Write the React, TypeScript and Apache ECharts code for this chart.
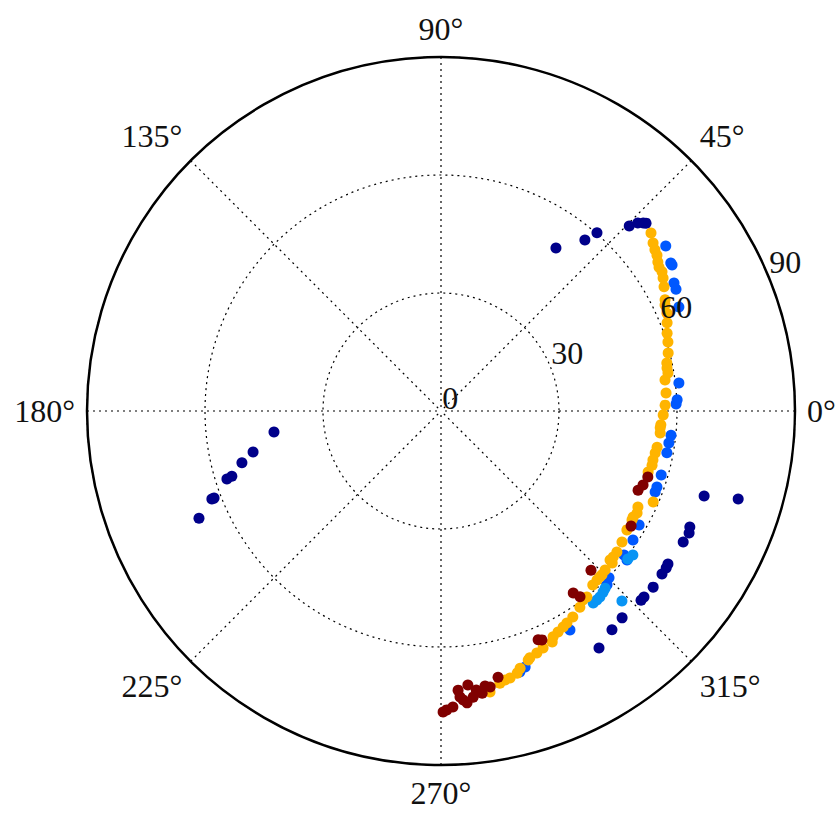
import React, { useEffect, useRef } from "react";
import * as echarts from "echarts";

// [radius, angle in degrees]
const navyPoints: number[][] = [
  [50.7, 54.8], [56.8, 49.9], [60.2, 48.8], [67.1, 44.5], [69.2, 43.7], [70.2, 42.9], [70.7, 42.5],
  [70.3, 342.1], [78.8, 343.5], [69.8, 335.0], [70.3, 333.8], [70.0, 331.6], [69.6, 326.0],
  [69.8, 325.1], [69.8, 323.6], [70.1, 320.3], [70.0, 317.5], [70.0, 316.6], [69.9, 311.2],
  [70.6, 308.0], [72.4, 303.7],
  [42.8, 187.2], [48.9, 192.3], [52.3, 194.6], [55.7, 197.3], [57.1, 197.6], [61.8, 201.0],
  [62.4, 201.0], [67.3, 203.9],
];

const bluePoints: number[][] = [
  [70.9, 36.3], [69.5, 32.8], [69.5, 32.3], [67.6, 28.8], [67.3, 27.4], [66.0, 23.6],
  [60.9, 6.7], [60.1, 2.7], [59.8, 1.7], [58.8, 354.0], [58.5, 352.0], [58.4, 349.5],
  [58.3, 343.8], [58.2, 340.6], [58.2, 339.3], [58.1, 330.1], [58.8, 326.1], [59.2, 321.8],
  [60.2, 315.2], [61.1, 313.7], [64.6, 300.5], [60.6, 321.3], [68.5, 288.2], [69.3, 286.8],
];

const lightBluePoints: number[][] = [
  [61.0, 323.1], [60.6, 321.6], [66.7, 313.6], [62.3, 309.5], [62.3, 308.4], [62.2, 310.5],
  [61.4, 312.8], [61.8, 311.8],
];

const orangePoints: number[][] = [
  [70.0, 40.3], [68.8, 38.4], [68.1, 37.0], [67.7, 35.8], [66.9, 34.5], [66.4, 33.4],
  [66.4, 32.2], [65.8, 30.9], [64.9, 29.1], [63.6, 26.4], [63.0, 25.3], [62.6, 23.4],
  [61.7, 21.3], [60.8, 19.0], [60.3, 16.9], [59.6, 14.3], [58.7, 12.0], [58.5, 10.8],
  [58.5, 9.5], [57.5, 7.9], [57.4, 4.6], [57.0, 1.5], [56.5, 359.0], [56.0, 356.4],
  [55.9, 355.6], [56.0, 354.3], [55.7, 350.5], [55.5, 348.9], [55.3, 347.0], [55.4, 345.6],
  [54.9, 343.6], [58.7, 336.8], [55.7, 334.0], [56.2, 332.5], [55.8, 331.1], [55.9, 330.3],
  [56.1, 327.4], [56.8, 324.1], [57.3, 321.3], [57.4, 319.7], [57.3, 318.6], [58.2, 318.4],
  [58.1, 315.9], [58.4, 314.5], [58.4, 313.8], [58.5, 312.7], [58.7, 311.1], [60.1, 308.1],
  [60.1, 306.9], [61.1, 305.3], [62.2, 302.6], [62.7, 300.7], [63.1, 299.5], [63.6, 297.9],
  [64.1, 296.4], [65.2, 295.7], [65.6, 293.3], [66.2, 291.6], [66.7, 289.8], [67.1, 289.3],
  [68.4, 287.1], [69.4, 286.2], [70.1, 284.5], [70.3, 283.4], [70.8, 282.2], [72.5, 279.9],
];

const darkRedPoints: number[][] = [
  [55.2, 342.3], [54.7, 339.9], [54.0, 338.1], [56.5, 328.8], [55.6, 313.3], [57.2, 306.0],
  [59.0, 306.8], [63.2, 293.0], [63.6, 293.8], [69.2, 282.1], [71.3, 280.1], [72.5, 278.3],
  [70.8, 279.1], [71.5, 277.2], [70.0, 275.6], [71.1, 273.5], [72.9, 273.8], [73.7, 274.4],
  [73.2, 276.4], [76.0, 271.1], [76.5, 270.4], [75.3, 272.3], [74.5, 275.1],
];

const angleTicks = { min: 0, max: 360, interval: 45 };
const radiusTicks = { min: 0, max: 90, interval: 30 };

const FONT = "'Liberation Serif', 'DejaVu Serif', serif";
const dotted = [2, 4];

export default function App() {
  const ref = useRef<HTMLDivElement>(null);
  useEffect(() => {
    if (!ref.current) return;
    const chart = echarts.init(ref.current, undefined, { renderer: "svg" });
    const center = [441, 411];
    const radius = 354;
    const mk = (name: string, data: number[][], color: string) => ({
      type: "scatter",
      name,
      coordinateSystem: "polar",
      polarIndex: 0,
      data,
      symbolSize: 11,
      z: 2,
      itemStyle: { color, opacity: 1 },
    });
    chart.setOption({
      animation: false,
      backgroundColor: "#ffffff",
      polar: [
        { center, radius },
        { center, radius },
      ],
      angleAxis: [
        {
          polarIndex: 0,
          type: "value",
          min: angleTicks.min,
          max: angleTicks.max,
          interval: angleTicks.interval,
          startAngle: 0,
          clockwise: false,
          axisLine: { show: true, lineStyle: { color: "#000", width: 2.5 } },
          axisTick: { show: false },
          splitLine: { show: true, lineStyle: { color: "#000", width: 1.2, type: dotted } },
          axisLabel: {
            show: true,
            formatter: "{value}°",
            fontFamily: FONT,
            fontSize: 32,
            color: "#111",
            margin: 12,
          },
        },
        {
          polarIndex: 1,
          type: "value",
          min: angleTicks.min,
          max: angleTicks.max,
          startAngle: 22.5,
          clockwise: false,
          show: false,
        },
      ],
      radiusAxis: [
        {
          polarIndex: 0,
          type: "value",
          min: radiusTicks.min,
          max: radiusTicks.max,
          interval: radiusTicks.interval,
          axisLine: { show: false },
          axisTick: { show: false },
          axisLabel: { show: false },
          splitLine: { show: true, lineStyle: { color: "#000", width: 1.2, type: dotted } },
        },
        {
          polarIndex: 1,
          type: "value",
          z: 10,
          min: radiusTicks.min,
          max: radiusTicks.max,
          interval: radiusTicks.interval,
          axisLine: { show: false },
          axisTick: { show: false },
          splitLine: { show: false },
          axisLabel: {
            show: true,
            margin: -3,
            align: "left",
            verticalAlign: "bottom",
            fontFamily: FONT,
            fontSize: 32,
            color: "#111",
          },
        },
      ],
      series: [
        mk("navy", navyPoints, "#00008a"),
        mk("blue", bluePoints, "#0058ff"),
        mk("lightblue", lightBluePoints, "#0894f4"),
        mk("orange", orangePoints, "#ffb400"),
        mk("darkred", darkRedPoints, "#800000"),
      ],
    });
    return () => chart.dispose();
  }, []);
  return (
    <div
      ref={ref}
      style={{ position: "fixed", left: 0, top: 0, width: 840, height: 815, background: "#fff" }}
    />
  );
}
